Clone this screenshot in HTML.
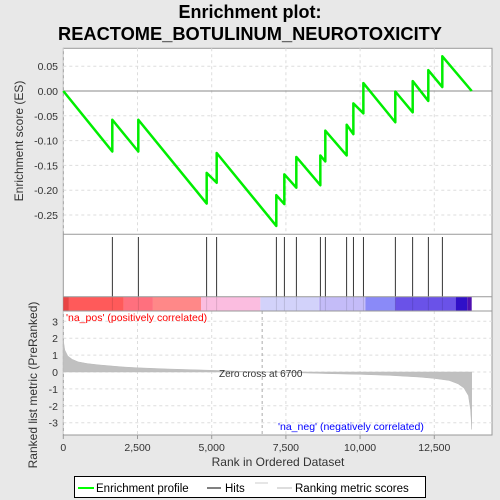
<!DOCTYPE html>
<html><head><meta charset="utf-8"><style>
html,body{margin:0;padding:0;background:#e8e8e8;}
svg{display:block;font-family:"Liberation Sans",sans-serif;}
</style></head><body>
<svg id="c" width="500" height="500" viewBox="0 0 500 500">
<text x="250" y="18" text-anchor="middle" font-size="18" font-weight="bold">Enrichment plot:</text>
<text x="250" y="40" text-anchor="middle" font-size="18" font-weight="bold" textLength="384" lengthAdjust="spacingAndGlyphs">REACTOME_BOTULINUM_NEUROTOXICITY</text>
<rect x="63.3" y="48.3" width="428.7" height="386.7" fill="#fff" stroke="#999"/>
<g id="grid"></g>
<g id="band"></g>
<g id="metric"></g>
<g id="hits"></g>
<g id="es"></g>
<g id="axes"></g>
<line x1="63.3" y1="234.3" x2="492" y2="234.3" stroke="#999"/>
<line x1="63.3" y1="296.7" x2="492" y2="296.7" stroke="#999"/>
<line x1="63.3" y1="311" x2="492" y2="311" stroke="#999"/>
<text x="66" y="321" font-size="10.5" fill="#f00">'na_pos' (positively correlated)</text>
<text x="278" y="430" font-size="10.5" fill="#00f">'na_neg' (negatively correlated)</text>
<text x="219" y="377" font-size="10" fill="#333">Zero cross at 6700</text>
<text transform="translate(23,141) rotate(-90)" text-anchor="middle" font-size="12" fill="#333">Enrichment score (ES)</text>
<text transform="translate(37,385) rotate(-90)" text-anchor="middle" font-size="12" fill="#333">Ranked list metric (PreRanked)</text>
<text x="278" y="466" text-anchor="middle" font-size="12" fill="#333">Rank in Ordered Dataset</text>
<g>
<rect x="74.5" y="476.5" width="351" height="21" fill="#fff" stroke="#000"/>
<line x1="78" y1="488" x2="94" y2="488" stroke="#0f0" stroke-width="2"/>
<text x="96" y="492" font-size="11.5" fill="#000">Enrichment profile</text>
<line x1="207" y1="488" x2="221" y2="488" stroke="#000"/>
<text x="225" y="492" font-size="11.5" fill="#000">Hits</text>
<line x1="255" y1="483" x2="268" y2="483" stroke="#ccc"/>
<line x1="277" y1="488" x2="292" y2="488" stroke="#bbb"/>
<text x="295" y="492" font-size="11.5" fill="#000">Ranking metric scores</text>
</g>
</svg>
<script>
const hitRanks=[1651,2527,4831,5168,7177,7447,7851,8660,8828,9548,9773,10110,11186,11772,12298,12770];
const esBefore=[-0.122,-0.122,-0.227,-0.185,-0.272,-0.228,-0.195,-0.19,-0.142,-0.13,-0.087,-0.045,-0.063,-0.043,-0.02,0.008];
const esAfter=[-0.058,-0.058,-0.165,-0.125,-0.21,-0.168,-0.133,-0.13,-0.08,-0.068,-0.025,0.016,-0.001,0.02,0.042,0.07];
const totalRanks=13760;
const metricRanks=[0,50,150,300,500,800,1200,2000,2500,3500,5000,6000,6700,8000,9000,10000,11000,12000,12500,13000,13300,13500,13650,13720,13750,13760];
const metricValues=[1.9,1.3,0.95,0.75,0.6,0.5,0.42,0.3,0.25,0.18,0.1,0.04,0,-0.05,-0.1,-0.14,-0.2,-0.3,-0.38,-0.5,-0.7,-0.95,-1.4,-2.2,-3.0,-3.4];
const esTicks=[0.05,0,-0.05,-0.1,-0.15,-0.2,-0.25];
const esTickLabels=["0.05","0.00","-0.05","-0.10","-0.15","-0.20","-0.25"];
const metricTicks=[3,2,1,0,-1,-2,-3];
const xTicks=[0,2500,5000,7500,10000,12500];
const xTickLabels=["0","2,500","5,000","7,500","10,000","12,500"];
const bandStops=[0,190,2040,3020,4640,6640,8610,10180,11180,13220,13610,13760];
const bandColors=["#e84444","#ff5a5a","#ff707e","#ff8888","#fbbde0","#d2d2fa","#c4bcf8","#8a8af8","#6a52e8","#3010c8","#5010b0"];

const NS="http://www.w3.org/2000/svg";
const X=r=>63.3+r*0.02968;
const YE=v=>91-v*496;
const YM=v=>372-v*16.9;
function mk(tag,attrs,parent){const e=document.createElementNS(NS,tag);for(const k in attrs)e.setAttribute(k,attrs[k]);document.getElementById(parent).appendChild(e);return e;}

// grid
xTicks.forEach((t,i)=>{
  let g=mk('line',{x1:X(t),x2:X(t),y1:48.3,y2:234.3,stroke:'#ddd','stroke-dasharray':'3,3'},'grid');
  
  
  let g2=mk('line',{x1:X(t),x2:X(t),y1:311,y2:435,stroke:'#ddd','stroke-dasharray':'3,3'},'grid');
  
  
  let tl=mk('text',{x:X(t),y:451,'text-anchor':'middle','font-size':'10.5',fill:'#333'},'axes');
  tl.textContent=xTickLabels[i];
  
  
  let tk=mk('line',{x1:X(t),x2:X(t),y1:435,y2:439,stroke:'#999'},'axes');
  
  
});
esTicks.forEach((t,i)=>{
  let g=mk('line',{x1:63.3,x2:492,y1:YE(t),y2:YE(t),stroke:t===0?'#888':'#ddd','stroke-dasharray':t===0?'':'3,3'},'grid');
  
  
  let tl=mk('text',{x:58,y:YE(t)+4,'text-anchor':'end','font-size':'10.5',fill:'#333'},'axes');
  tl.textContent=esTickLabels[i];
  
  
});
metricTicks.forEach(t=>{
  let g=mk('line',{x1:63.3,x2:492,y1:YM(t),y2:YM(t),stroke:'#ddd','stroke-dasharray':'3,3'},'grid');
  
  
  let tl=mk('text',{x:58,y:YM(t)+4,'text-anchor':'end','font-size':'10.5',fill:'#333'},'axes');
  tl.textContent=String(t);
  
  
});
let zc=mk('line',{x1:X(6700),x2:X(6700),y1:311,y2:435,stroke:'#aaa','stroke-dasharray':'3,3'},'grid');



// band
for(let i=0;i<bandColors.length;i++){
  let r=mk('rect',{x:X(bandStops[i]),y:296.7,width:X(bandStops[i+1])-X(bandStops[i]),height:14.3,fill:bandColors[i]},'band');
  
  
}
// metric area
let d='M'+X(0)+','+YM(0);
metricRanks.forEach((r,i)=>{d+=' L'+X(r)+','+YM(metricValues[i]);});
d+=' L'+X(totalRanks)+','+YM(0)+' Z';
let ma=mk('path',{d:d,fill:'#c0c0c0',stroke:'#bbb','stroke-width':'0.5'},'metric');



// hits
hitRanks.forEach(r=>{
  let l=mk('line',{x1:X(r),x2:X(r),y1:237,y2:296.7,stroke:'#000','stroke-width':'0.8'},'hits');
  
  
  let l2=mk('line',{x1:X(r),x2:X(r),y1:296.7,y2:311,stroke:'rgba(0,0,0,0.15)','stroke-width':'0.8'},'hits');
  
  
});
// ES
let p='M'+X(0)+','+YE(0);
hitRanks.forEach((r,i)=>{p+=' L'+X(r)+','+YE(esBefore[i])+' L'+X(r)+','+YE(esAfter[i]);});
p+=' L'+X(totalRanks)+','+YE(0);
let es=mk('path',{d:p,fill:'none',stroke:'#00ee00','stroke-width':'2.5','stroke-linejoin':'round'},'es');


</script>
</body></html>
